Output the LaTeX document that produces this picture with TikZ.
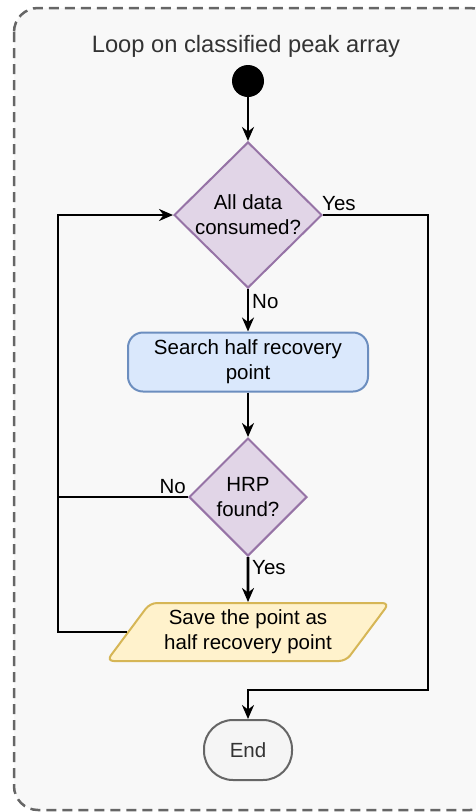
\documentclass[tikz,border=0pt]{standalone}
\usepackage{fontspec}
\setmainfont{Liberation Sans}
\usetikzlibrary{arrows.meta, shapes.geometric}

\definecolor{boxfill}{HTML}{F8F8F8}
\definecolor{boxline}{HTML}{666666}
\definecolor{decfill}{HTML}{E1D5E7}
\definecolor{decline}{HTML}{9673A6}
\definecolor{procfill}{HTML}{DAE8FC}
\definecolor{procline}{HTML}{6C8EBF}
\definecolor{iofill}{HTML}{FFF2CC}
\definecolor{ioline}{HTML}{D6B656}
\definecolor{termfill}{HTML}{F5F5F5}
\definecolor{darktext}{HTML}{333333}

\newcommand{\bodyfont}{\fontsize{20.5}{25}\selectfont}
\newcommand{\titlefont}{\fontsize{23.7}{28}\selectfont}

\begin{document}
\begin{tikzpicture}[
    x=1pt, y=-1pt,
    >={Stealth[length=14pt, width=12pt]},
    decnode/.style={
        diamond, draw=decline, fill=decfill, line width=2pt,
        minimum width=148, minimum height=146, inner sep=0pt,
        align=center, font=\bodyfont
    },
    procnode/.style={
        rectangle, draw=procline, fill=procfill, line width=2pt,
        rounded corners=15pt, minimum width=240, minimum height=59,
        align=center, font=\bodyfont
    },
    ionode/.style={
        trapezium, trapezium left angle=50, trapezium right angle=130,
        trapezium stretches=true, draw=ioline, fill=iofill, line width=2pt,
        rounded corners=7pt, minimum width=283, minimum height=58,
        inner sep=0pt, align=center, font=\bodyfont
    },
    termnode/.style={
        rectangle, draw=boxline, fill=termfill, line width=2pt,
        rounded corners=29pt, minimum width=88, minimum height=60,
        text=darktext, font=\bodyfont
    },
    startnode/.style={circle, fill=black, minimum size=32, inner sep=0pt},
    line/.style={draw, line width=2.8pt},
    arr/.style={line, ->},
    lbl/.style={font=\bodyfont, inner sep=0pt},
]

\useasboundingbox (0,0) rectangle (476,812);
\clip (0,0) rectangle (476,812);

% ================================================================
%  CONTAINER
% ================================================================
\draw[boxline, fill=boxfill, line width=2.5pt, dash pattern=on 10pt off 6pt,
      rounded corners=24pt] (14,8) rectangle (494,810);
\node[font=\titlefont, text=darktext, anchor=base, inner sep=0pt]
    (title) at (246, 52) {Loop on classified peak array};

% ================================================================
%  NODES
% ================================================================
\node[startnode] (start)   at (248, 81)  {};
\node[decnode]   (dec_all) at (248, 215) {All data\\consumed?};
\node[procnode]  (search)  at (248, 362) {Search half recovery\\point};
\node[decnode, minimum width=118, minimum height=118]
                 (dec_hrp) at (248, 497) {HRP\\found?};
\node[ionode]    (save)    at (248, 632) {Save the point as\\half recovery point};
\node[termnode]  (stop)    at (248, 750) {End};

\coordinate (left_turn)  at (58, 215);
\coordinate (right_turn) at (428, 690);

% ================================================================
%  CONNECTORS
% ================================================================
\draw[arr] (start) -- (dec_all);
\draw[arr] (dec_all.south) -- (search.north);
\draw[arr] (search) -- (dec_hrp);
\draw[arr] (dec_hrp.south) -- (save.north);

% Yes -> End (around the right side)
\draw[arr] (dec_all.east) -| (right_turn) -| (stop.north);

% Loop back to the first test
\draw[arr] (save.west) -| (left_turn) -- (dec_all.west);
\draw[line] (dec_hrp.west) -- (dec_hrp.west -| left_turn);

% --- labels ---
\node[lbl, anchor=base west] at (322, 210) {Yes};
\node[lbl, anchor=base west] at (252, 308) {No};
\node[lbl, anchor=base east] at (186, 493) {No};
\node[lbl, anchor=base west] at (252, 574) {Yes};

\end{tikzpicture}
\end{document}
